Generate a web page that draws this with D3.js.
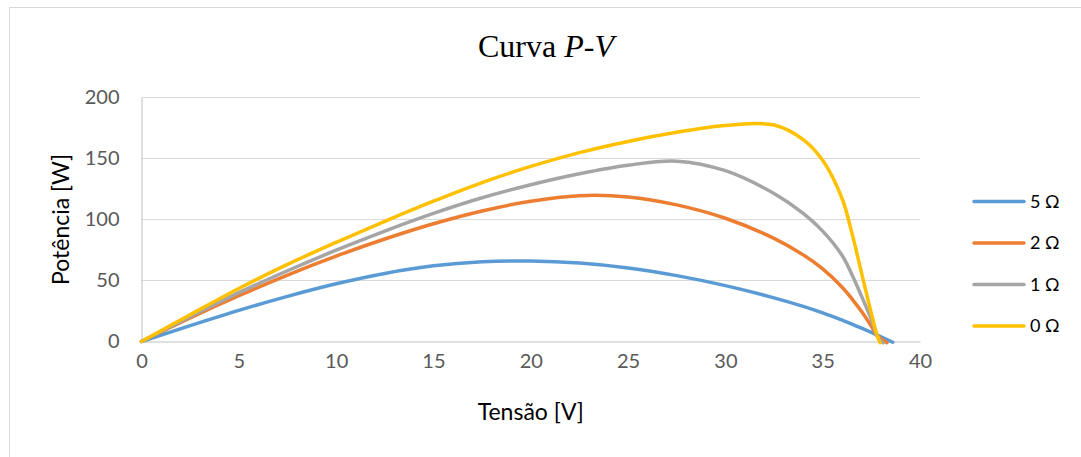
<!DOCTYPE html>
<html>
<head>
<meta charset="utf-8">
<script src="https://cdn.jsdelivr.net/npm/d3@7"></script>
<style>
  html, body { margin: 0; padding: 0; background: #fff; }
  svg { display: block; }
</style>
</head>
<body>
<svg id="chart" width="1081" height="457"></svg>
<script>
// Voltage grid shared by the four curves [V]
const voltage = [0, 2.5, 5, 7.5, 10, 12.5, 15, 17.5, 20, 22.5, 25, 27.5, 30, 32.5, 34, 35, 36, 36.5, 37, 37.5, 37.8];

// Power at each grid voltage [W], one array per series resistance
const power5 = [0, 13, 25.5, 37, 47.3, 55.8, 62, 65.3, 66, 64.3, 60.3, 54, 45.8, 35.8, 28.8, 23.5, 17.5, 14.3, 10.9, 7.4, 5.2];
const power2 = [0, 19.3, 37.5, 54.5, 70, 84, 96.5, 107, 115, 119.5, 118.5, 112, 101, 84.5, 71, 59.5, 44.5, 35, 24.5, 12.5, 4.7];
const power1 = [0, 20.3, 40, 58, 74.8, 90.5, 105, 117.8, 128.5, 137.5, 144.5, 147.8, 140, 121.3, 105, 90.5, 70.5, 55, 37, 18, 4.4];
const power0 = [0, 22, 43.5, 63.2, 81.2, 98.5, 115, 130.3, 143.5, 154.8, 164, 171.5, 177, 177.5, 165.5, 148.5, 117, 89, 56, 23, 5];

// Final point of each curve (open-circuit end)
const endVoltage = [38.6, 38.3, 38.1, 37.95];
const endPower = [-0.6, -1, -1, -1];

const seriesNames = ["5 \u03A9", "2 \u03A9", "1 \u03A9", "0 \u03A9"];
const seriesPower = [power5, power2, power1, power0];
const seriesColors = ["#5B9BD5", "#ED7D31", "#A5A5A5", "#FFC000"];

const xTicks = [0, 5, 10, 15, 20, 25, 30, 35, 40];
const yTicks = [0, 50, 100, 150, 200];

const svg = d3.select("#chart");

// chart area frame
svg.append("rect")
  .attr("x", 9.5).attr("y", 7.5)
  .attr("width", 1100).attr("height", 500)
  .attr("fill", "#fff").attr("stroke", "#d9d9d9").attr("stroke-width", 1);

const x = d3.scaleLinear().domain([0, 40]).range([141.5, 920]);
const y = d3.scaleLinear().domain([0, 200]).range([341.5, 97.5]);

// horizontal gridlines
svg.append("g")
  .selectAll("line")
  .data(yTicks.filter(t => t > 0))
  .join("line")
  .attr("x1", x(0)).attr("x2", x(40))
  .attr("y1", d => y(d)).attr("y2", d => y(d))
  .attr("stroke", "#d9d9d9").attr("stroke-width", 1);

// axes
const xAxis = d3.axisBottom(x).tickValues(xTicks).tickSize(0).tickPadding(12);
const yAxis = d3.axisLeft(y).tickValues(yTicks).tickSize(0).tickPadding(22);

const gx = svg.append("g").attr("transform", `translate(0,${y(0)})`).call(xAxis);
const gy = svg.append("g").attr("transform", `translate(${x(0)},0)`).call(yAxis);

[gx, gy].forEach(g => {
  g.select(".domain").attr("stroke", "#bfbfbf").attr("stroke-width", 1);
  g.selectAll("text")
    .attr("fill", "#595959")
    .style("font-family", "Lato, 'Open Sans', sans-serif")
    .style("font-size", "20px");
});
gx.selectAll("text").attr("dy", "0.71em");

// series curves
const line = d3.line()
  .x(d => x(d[0]))
  .y(d => y(d[1]))
  .curve(d3.curveCatmullRom.alpha(0.5));

seriesPower.forEach((p, i) => {
  const pts = voltage.map((v, k) => [v, p[k]]);
  pts.push([endVoltage[i], endPower[i]]);
  svg.append("path")
    .datum(pts)
    .attr("d", line)
    .attr("fill", "none")
    .attr("stroke", seriesColors[i])
    .attr("stroke-width", 3.5)
    .attr("stroke-linejoin", "round")
    .attr("stroke-linecap", "round");
});

// title
const title = svg.append("text")
  .attr("x", 546).attr("y", 57)
  .attr("text-anchor", "middle")
  .style("font-family", "'Liberation Serif', 'Times New Roman', serif")
  .style("font-size", "32px")
  .attr("fill", "#000");
title.append("tspan").text("Curva ");
title.append("tspan").style("font-style", "italic").text("P-V");

// axis titles
svg.append("text")
  .attr("x", x(20)).attr("y", 420)
  .attr("text-anchor", "middle")
  .style("font-family", "Lato, 'Open Sans', sans-serif")
  .style("font-size", "23px")
  .attr("fill", "#000")
  .text("Tensão [V]");

svg.append("text")
  .attr("transform", `translate(68.5,${(y(0) + y(200)) / 2}) rotate(-90)`)
  .attr("text-anchor", "middle")
  .style("font-family", "Lato, 'Open Sans', sans-serif")
  .style("font-size", "23px")
  .attr("fill", "#000")
  .text("Potência [W]");

// legend
const legend = svg.append("g");
seriesNames.forEach((name, i) => {
  const ly = 201.5 + i * 41.5;
  legend.append("line")
    .attr("x1", 974).attr("x2", 1024)
    .attr("y1", ly).attr("y2", ly)
    .attr("stroke", seriesColors[i])
    .attr("stroke-width", 3.5)
    .attr("stroke-linecap", "round");
  legend.append("text")
    .attr("x", 1030).attr("y", ly)
    .attr("dy", "0.35em")
    .style("font-family", "Lato, 'Open Sans', sans-serif")
    .style("font-size", "18px")
    .attr("fill", "#000")
    .text(name);
});
</script>
</body>
</html>
